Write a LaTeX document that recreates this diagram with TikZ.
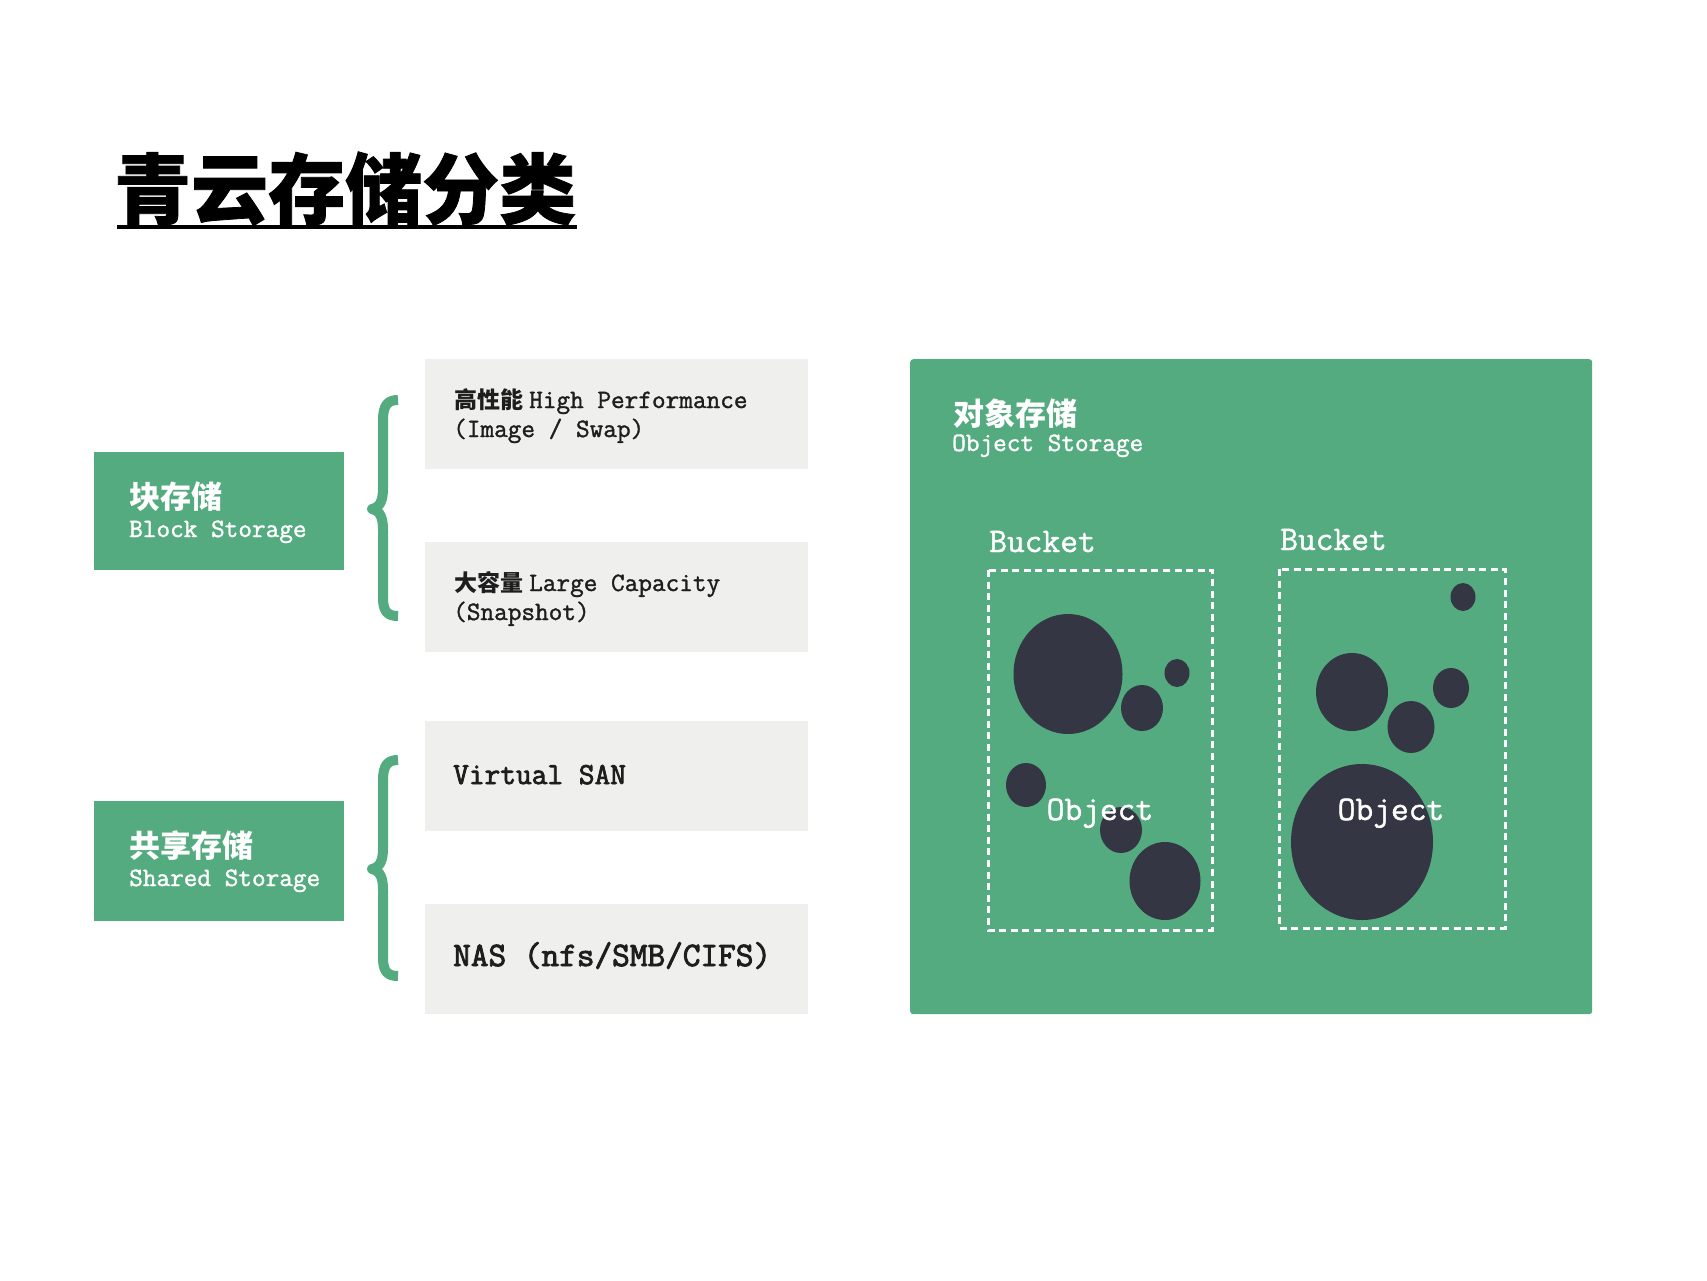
\documentclass[tikz,border=0pt]{standalone}
\usepackage{fontspec}
\newfontfamily\mono{Latin Modern Mono}[FakeBold=1.3]
\newfontfamily\monob{Latin Modern Mono}[FakeBold=2.6]
\newfontfamily\cjk{Noto Sans CJK SC}
\newfontfamily\cjkt{Noto Sans CJK SC}[BoldFeatures={FakeBold=1}]
\usetikzlibrary{shapes.geometric}
\definecolor{qgreen}{HTML}{55AB80}
\definecolor{qgray}{HTML}{EFEFEE}
\definecolor{qdark}{HTML}{343643}
\definecolor{qtext}{HTML}{1E1E1E}
\begin{document}
\begin{tikzpicture}[x=1pt,y=-1pt,
  greenbox/.style={fill=qgreen,draw=none,inner sep=0,anchor=north west},
  graybox/.style={fill=qgray,draw=none,inner sep=0,anchor=north west,minimum width=383pt,minimum height=110pt},
  txt/.style={inner sep=0,anchor=base west},
  wtxt/.style={txt,text=white},
  btxt/.style={txt,text=qtext},
  blob/.style={ellipse,fill=qdark,draw=none,inner sep=0},
  bucketbox/.style={draw=white,line width=3pt,dash pattern=on 7pt off 4.6pt,fill=none},
  bracestyle/.style={draw=qgreen,line width=10pt,line join=round}]
\useasboundingbox (0,0) rectangle (1707,1280);
\fill[white] (0,0) rectangle (1707,1280);

% title
\node[txt] (title) at (114,218) {\fontsize{77}{80}\selectfont\cjkt\bfseries 青云存储分类};
\draw[line width=4pt,black] (117,227) -- (577,227);

% left green boxes
\node[greenbox,minimum width=250pt,minimum height=118pt] (block) at (94,452) {};
\node[greenbox,minimum width=250pt,minimum height=120pt] (shared) at (94,801) {};
\node[wtxt] (blockzh) at (129,508) {\fontsize{31}{34}\selectfont\cjk\bfseries 块存储};
\node[wtxt] (blocken) at (129,537) {\fontsize{26.5}{29}\selectfont\mono Block Storage};
\node[wtxt] (sharedzh) at (129,857) {\fontsize{31}{34}\selectfont\cjk\bfseries 共享存储};
\node[wtxt] (shareden) at (129,886) {\fontsize{26.5}{29}\selectfont\mono Shared Storage};

% braces
\foreach \s in {0,360}{
\draw[bracestyle,yshift=-\s pt] (398,400) .. controls (388,400) and (383,405) .. (383,420)
  -- (383,488) .. controls (383,501) and (380,507) .. (372,509)
  .. controls (380,511) and (383,517) .. (383,530)
  -- (383,598) .. controls (383,612) and (388,616) .. (398,616);
}

% gray boxes
\node[graybox] (g1) at (425,359) {};
\node[graybox] (g2) at (425,542) {};
\node[graybox] (g3) at (425,721) {};
\node[graybox] (g4) at (425,904) {};
\node[btxt] (g1a) at (454,408) {\fontsize{23}{26}\selectfont{\cjk\bfseries 高性能}\hspace{6pt}\fontsize{26.5}{29}\selectfont\mono High Performance};
\node[btxt] (g1b) at (453,437) {\fontsize{26.5}{29}\selectfont\mono (Image / Swap)};
\node[btxt] (g2a) at (454,591) {\fontsize{23}{26}\selectfont{\cjk\bfseries 大容量}\hspace{6pt}\fontsize{26.5}{29}\selectfont\mono Large Capacity};
\node[btxt] (g2b) at (453,620) {\fontsize{26.5}{29}\selectfont\mono (Snapshot)};
\node[btxt] (g3a) at (453,784) {\fontsize{30.5}{33}\selectfont\monob Virtual SAN};
\node[btxt] (g4a) at (453,966) {\fontsize{34.3}{37}\selectfont\monob NAS (nfs/SMB/CIFS)};

% object storage
\node[greenbox,minimum width=682pt,minimum height=655pt,rounded corners=3pt] (obj) at (910,359) {};
\node[wtxt] (objzh) at (953,425) {\fontsize{31}{34}\selectfont\cjk\bfseries 对象存储};
\node[wtxt] (objen) at (952,451) {\fontsize{26.5}{29}\selectfont\mono Object Storage};

\node[wtxt] (bk1) at (989,552) {\fontsize{34.5}{37}\selectfont\mono Bucket};
\node[wtxt] (bk2) at (1280,550) {\fontsize{34.5}{37}\selectfont\mono Bucket};
\draw[bucketbox] (988,570) rectangle (1212,930);
\draw[bucketbox] (1279,569) rectangle (1505,928);

% left bucket objects
\node[blob,minimum width=109pt,minimum height=120pt] (a1) at (1068,674) {};
\node[blob,minimum width=42pt,minimum height=46pt] (a2) at (1142,708) {};
\node[blob,minimum width=25pt,minimum height=28pt] (a3) at (1177,673) {};
\node[blob,minimum width=40pt,minimum height=44pt] (a4) at (1026,785) {};
\node[blob,minimum width=42pt,minimum height=46pt] (a5) at (1121,830) {};
\node[blob,minimum width=71pt,minimum height=78pt] (a6) at (1165,881) {};
% right bucket objects
\node[blob,minimum width=25pt,minimum height=28pt] (b1) at (1463,597) {};
\node[blob,minimum width=72pt,minimum height=78pt] (b2) at (1352,692) {};
\node[blob,minimum width=36pt,minimum height=40pt] (b3) at (1451,688) {};
\node[blob,minimum width=47pt,minimum height=52pt] (b4) at (1411,727) {};
\node[blob,minimum width=142pt,minimum height=156pt] (b5) at (1362,842) {};

\node[inner sep=0,anchor=base,text=white] (ob1) at (1100,820) {\fontsize{34.5}{37}\selectfont\mono Object};
\node[inner sep=0,anchor=base,text=white] (ob2) at (1391,820) {\fontsize{34.5}{37}\selectfont\mono Object};
\end{tikzpicture}
\end{document}
